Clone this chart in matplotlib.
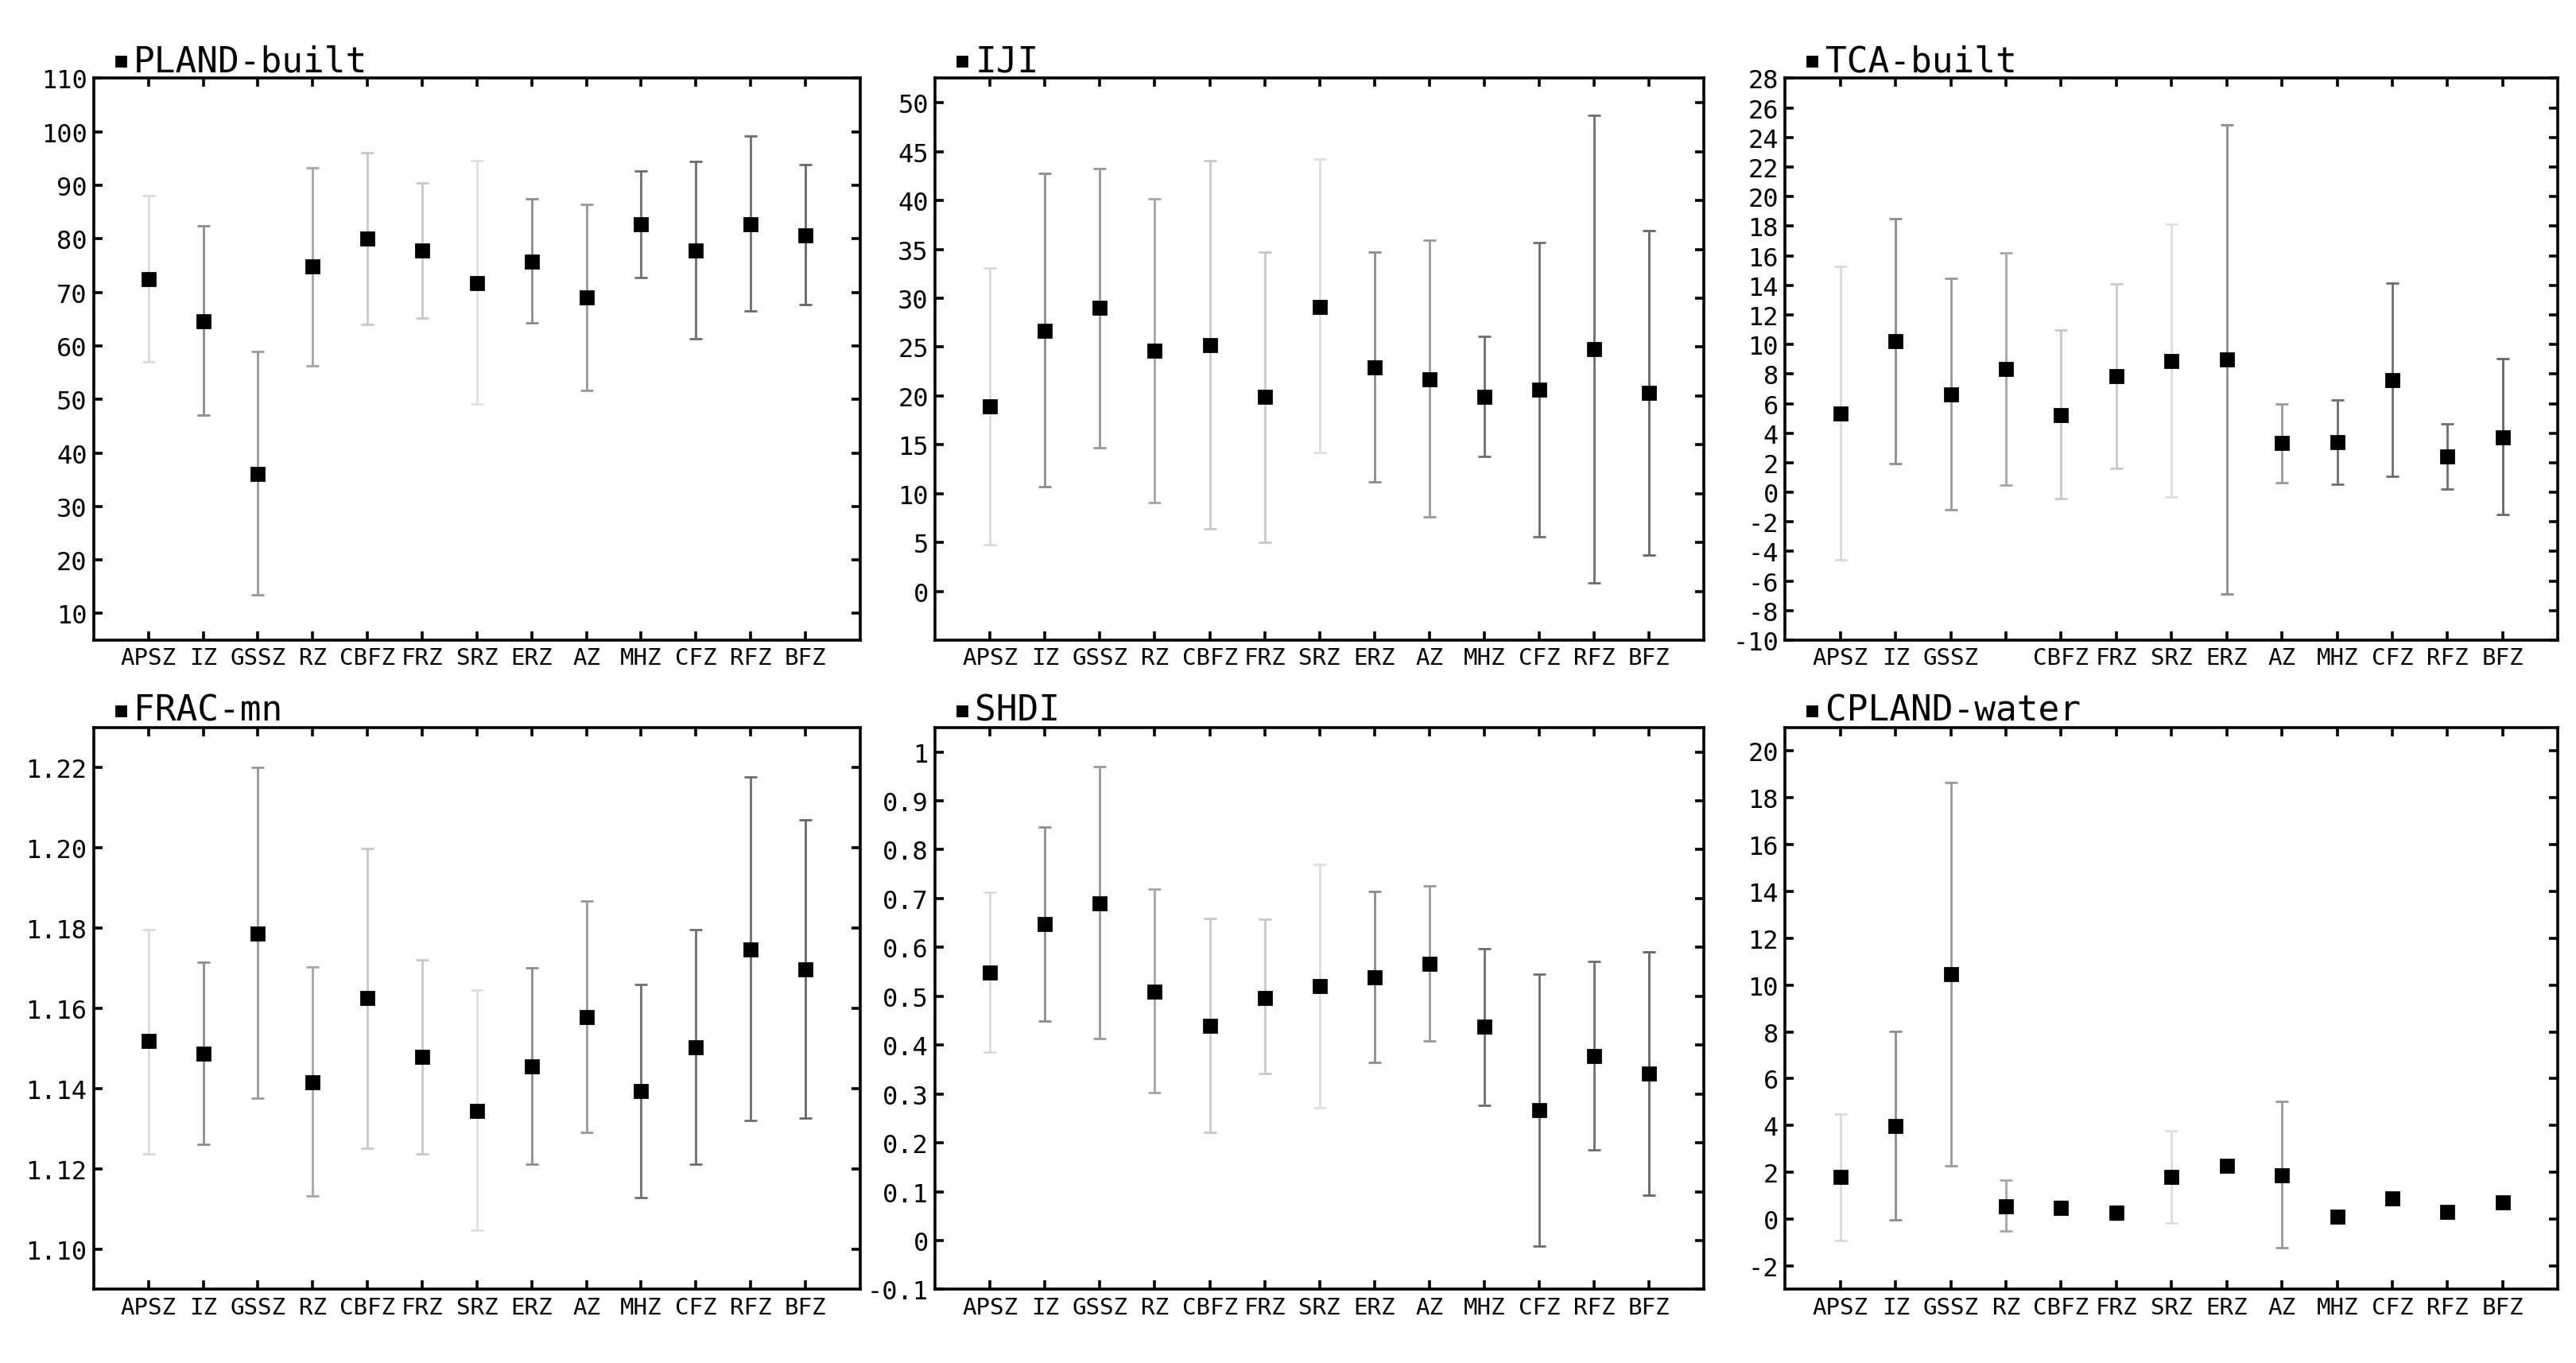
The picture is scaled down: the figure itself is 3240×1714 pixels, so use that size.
import numpy as np
import matplotlib
matplotlib.use("Agg")
import matplotlib.pyplot as plt

plt.rcParams["font.family"] = ["DejaVu Sans Mono", "DejaVu Sans"]

zones = ["APSZ", "IZ", "GSSZ", "RZ", "CBFZ", "FRZ", "SRZ", "ERZ", "AZ", "MHZ", "CFZ", "RFZ", "BFZ"]

# PLAND-built
pland_mean = [72.4, 64.6, 36.1, 74.8, 80.0, 77.8, 71.8, 75.7, 69.0, 82.7, 77.8, 82.7, 80.7]
pland_low = [57.0, 47.0, 13.5, 56.3, 64.0, 65.2, 49.2, 64.3, 51.6, 72.7, 61.3, 66.6, 67.7]
pland_high = [88.1, 82.5, 59.0, 93.3, 96.1, 90.4, 94.6, 87.5, 86.4, 92.7, 94.4, 99.2, 93.9]

# IJI
iji_mean = [18.9, 26.7, 29.0, 24.6, 25.2, 19.9, 29.1, 22.9, 21.7, 19.9, 20.6, 24.8, 20.3]
iji_low = [4.8, 10.7, 14.7, 9.1, 6.4, 5.0, 14.2, 11.2, 7.6, 13.8, 5.6, 0.9, 3.7]
iji_high = [33.1, 42.8, 43.3, 40.2, 44.1, 34.7, 44.2, 34.7, 35.9, 26.1, 35.7, 48.7, 36.9]

# TCA-built
tca_mean = [5.33, 10.2, 6.64, 8.33, 5.24, 7.87, 8.86, 8.97, 3.32, 3.38, 7.58, 2.42, 3.73]
tca_low = [-4.57, 1.92, -1.2, 0.5, -0.4, 1.63, -0.32, -6.88, 0.64, 0.52, 1.1, 0.23, -1.49]
tca_high = [15.27, 18.5, 14.45, 16.2, 10.96, 14.1, 18.15, 24.85, 5.97, 6.24, 14.13, 4.63, 9.03]

# FRAC-mn
frac_mean = [1.1518, 1.1487, 1.1787, 1.1416, 1.1625, 1.1479, 1.1345, 1.1455, 1.1578, 1.1394, 1.1503, 1.1746, 1.1697]
frac_low = [1.1238, 1.1261, 1.1377, 1.1132, 1.1252, 1.1237, 1.1047, 1.1211, 1.1291, 1.1128, 1.1211, 1.1320, 1.1327]
frac_high = [1.1797, 1.1715, 1.2200, 1.1704, 1.1999, 1.1722, 1.1645, 1.1702, 1.1868, 1.1660, 1.1797, 1.2176, 1.2070]

# SHDI
shdi_mean = [0.548, 0.647, 0.690, 0.509, 0.440, 0.497, 0.521, 0.539, 0.566, 0.437, 0.267, 0.378, 0.341]
shdi_low = [0.385, 0.449, 0.413, 0.302, 0.222, 0.341, 0.271, 0.364, 0.408, 0.277, -0.012, 0.186, 0.092]
shdi_high = [0.713, 0.847, 0.970, 0.719, 0.659, 0.657, 0.770, 0.714, 0.725, 0.598, 0.545, 0.571, 0.591]

# CPLAND-water
cpland_mean = [1.80, 3.99, 10.45, 0.56, 0.49, 0.26, 1.80, 2.28, 1.87, 0.11, 0.90, 0.30, 0.73]
cpland_low = [-0.90, -0.04, 2.28, -0.50, 0.25, -0.04, -0.17, 2.10, -1.22, 0.02, 0.71, 0.15, 0.56]
cpland_high = [4.49, 8.01, 18.65, 1.65, 0.80, 0.58, 3.76, 2.47, 5.02, 0.20, 1.08, 0.45, 0.90]

tca_labels = ["APSZ", "IZ", "GSSZ", "", "CBFZ", "FRZ", "SRZ", "ERZ", "AZ", "MHZ", "CFZ", "RFZ", "BFZ"]

# error bar shade for each zone
shades = ["#d9d9d9", "#8c8c8c", "#999999", "#a6a6a6", "#c8c8c8", "#c8c8c8", "#dedede",
          "#8c8c8c", "#999999", "#6e6e6e", "#6e6e6e", "#6e6e6e", "#666666"]

panels = [
    ("PLAND-built", pland_mean, pland_low, pland_high, (5, 110), np.arange(10, 111, 10), zones),
    ("IJI", iji_mean, iji_low, iji_high, (-5, 52.5), np.arange(0, 51, 5), zones),
    ("TCA-built", tca_mean, tca_low, tca_high, (-10, 28), np.arange(-10, 29, 2), tca_labels),
    ("FRAC-mn", frac_mean, frac_low, frac_high, (1.09, 1.23), np.arange(1.10, 1.221, 0.02), zones),
    ("SHDI", shdi_mean, shdi_low, shdi_high, (-0.1, 1.05), np.arange(-0.1, 1.01, 0.1), zones),
    ("CPLAND-water", cpland_mean, cpland_low, cpland_high, (-3, 21), np.arange(-2, 21, 2), zones),
]

fig = plt.figure(figsize=(16.2, 8.575), dpi=200)
lefts = [0.0364, 0.363, 0.693]
widths = [0.2975, 0.2985, 0.300]
bottoms = [0.530, 0.054]
height = 0.412

for k, (name, mean, low, high, ylim, yticks, labels) in enumerate(panels):
    row, col = divmod(k, 3)
    ax = fig.add_axes([lefts[col], bottoms[row], widths[col], height])
    x = np.arange(len(zones))
    mean = np.array(mean)
    err = [mean - np.array(low), np.array(high) - mean]
    for i in range(len(x)):
        ax.errorbar(x[i], mean[i], yerr=[[err[0][i]], [err[1][i]]], fmt="none",
                    ecolor=shades[i], elinewidth=1.0, capsize=3, capthick=1.0)
    ax.plot(x, mean, "s", color="black", ms=5.5, ls="none", zorder=5)

    ax.set_xlim(-1, len(zones))
    ax.set_ylim(*ylim)
    ax.set_xticks(x)
    ax.set_xticklabels(labels, fontsize=10.5)
    ax.set_yticks(yticks)
    if name == "FRAC-mn":
        ax.set_yticklabels([f"{v:.2f}" for v in yticks])
    else:
        ax.set_yticklabels([f"{round(v, 2):g}" for v in yticks])
    ax.tick_params(direction="in", top=True, right=True, length=4, width=1.3, pad=3)
    ax.tick_params(axis="y", labelsize=11.5)
    for sp in ax.spines.values():
        sp.set_linewidth(1.3)

    ax.plot([0.035], [1.03], "s", color="black", ms=4, transform=ax.transAxes, clip_on=False)
    ax.text(0.052, 1.0, name, transform=ax.transAxes, fontsize=16, va="bottom", ha="left")

plt.savefig("out.png")
